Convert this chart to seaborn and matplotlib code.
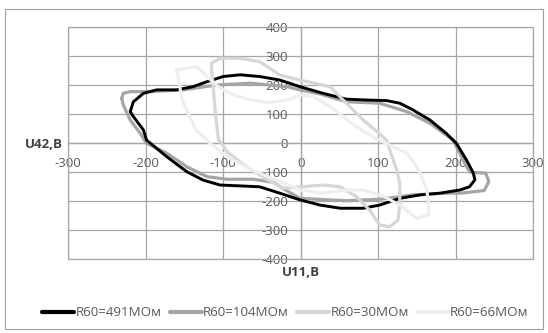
import matplotlib
matplotlib.use('Agg')
import matplotlib.pyplot as plt
import seaborn as sns
import pandas as pd
from matplotlib.patches import Rectangle

# R60=491 МОм
x_491 = [-220, -216, -203, -186, -160, -139, -121, -100, -78, -53, -27, -1, 29, 59, 85, 111, 128, 145, 167, 188,
         201, 214, 223, 225, 218, 206, 180, 154, 128, 102, 81, 51, 25, -1, -27, -53, -78, -104, -126, -147, -173,
         -199, -203, -216, -220]
y_491 = [109, 143, 172, 184, 184, 195, 212, 230, 236, 230, 218, 195, 172, 152, 149, 147, 138, 115, 80, 34,
         0, -57, -103, -126, -150, -161, -172, -178, -190, -213, -224, -224, -213, -195, -172, -150, -147, -144, -127, -98, -46,
         11, 46, 92, 109]

# R60=104 МОм
x_104 = [-231, -229, -220, -194, -151, -108, -65, -18, -1, 25, 59, 102, 137, 167, 197, 201, 214, 219, 239, 243,
         237, 207, 188, 145, 102, 59, -1, -20, -35, -61, -95, -121, -147, -173, -199, -207, -220, -229, -231]
y_104 = [155, 172, 178, 178, 184, 201, 207, 195, 184, 170, 143, 138, 109, 69, 11, -11, -80, -100, -103, -132,
         -163, -172, -172, -178, -193, -198, -190, -160, -135, -124, -124, -115, -81, -34, 0, 34, 80, 132, 155]

# R60=30 МОм
x_30 = [-104, -78, -53, -35, -27, -1, 38, 59, 81, 111, 115, 124, 128, 128, 126, 115, 102, 89, 72, 51, 29, -22,
        -40, -70, -95, -102, -106, -110, -113, -115, -115, -104]
y_30 = [293, 293, 281, 250, 235, 218, 195, 138, 80, 11, -23, -92, -138, -207, -264, -288, -282, -230, -184, -150, -144, -155,
        -130, -81, -30, 0, 11, 100, 200, 253, 276, 293]

# R60=66 МОм
x_66 = [-160, -134, -121, -104, -87, -65, -40, -15, -1, 16, 38, 72, 98, 137, 150, 158, 163, 165, 165, 150, 131, 108,
        81, 59, 27, 0, -27, -63, -95, -117, -135, -147, -153, -160]
y_66 = [253, 264, 230, 190, 167, 149, 140, 150, 167, 161, 126, 57, 15, -34, -81, -127, -161, -207, -247, -259, -218, -184,
        -161, -161, -172, -161, -132, -92, -46, 0, 46, 115, 149, 253]

series = [
    ('R60=491МОм', x_491, y_491, '#000000', 2.1),
    ('R60=104МОм', x_104, y_104, '#a5a5a5', 2.3),
    ('R60=30МОм', x_30, y_30, '#d6d6d6', 2.3),
    ('R60=66МОм', x_66, y_66, '#eeeeee', 2.3),
]
zorders = [3.1, 3.0, 3.2, 3.3]

sns.set_theme(style='white')
plt.rcParams['font.family'] = ['Open Sans', 'DejaVu Sans']
plt.rcParams['axes.unicode_minus'] = False

fig = plt.figure(figsize=(5.48, 3.33), dpi=100)
ax = fig.add_axes([0.1246, 0.2213, 0.848, 0.697])

for (name, xs, ys, col, lw), z in zip(series, zorders):
    df = pd.DataFrame({'x': xs, 'y': ys})
    sns.lineplot(data=df, x='x', y='y', sort=False, estimator=None, color=col, lw=lw,
                 label=name, ax=ax, zorder=z)

grid_col = '#a6a6a6'
ax.set_xlim(-300, 300)
ax.set_ylim(-400, 400)
ax.set_xticks(range(-300, 301, 100))
ax.set_yticks(range(-400, 401, 100))
ax.grid(True, color=grid_col, lw=0.9)
for s in ['top', 'right']:
    ax.spines[s].set_visible(False)
for s in ['left', 'bottom']:
    ax.spines[s].set_position('zero')
    ax.spines[s].set_color(grid_col)
    ax.spines[s].set_linewidth(0.9)
ax.add_patch(Rectangle((0, 0), 1, 1, transform=ax.transAxes, fill=False,
                       ec=grid_col, lw=0.9, clip_on=False, zorder=1))
ax.tick_params(axis='both', length=0, labelsize=9.5, labelcolor='#595959')
ax.tick_params(axis='x', pad=10)
ax.tick_params(axis='y', pad=9)

ax.set_xlabel('U11,В', fontsize=9.5, fontweight='bold', color='#404040')
ax.xaxis.set_label_coords(0.5, -0.055)
ax.xaxis.label.set_va('center')
ax.set_ylabel('U42,В', fontsize=9.5, fontweight='bold', color='#404040', rotation=0)
ax.yaxis.set_label_coords(-0.011, 0.495)
ax.yaxis.label.set_ha('right')
ax.yaxis.label.set_va('center')

handles, labels = ax.get_legend_handles_labels()
ax.get_legend().remove()
leg = fig.legend(handles, labels, loc='center', bbox_to_anchor=(0.521, 0.061), ncol=4,
                 frameon=False, fontsize=9.6, handlelength=2.4, handletextpad=0.1,
                 columnspacing=0.6, labelcolor='#595959')
for line in leg.get_lines():
    line.set_linewidth(3)

fig.patches.append(Rectangle((5 / 548, 4 / 333), 538 / 548, 320 / 333, transform=fig.transFigure,
                             fill=False, ec='#a0a0a0', lw=0.8))

fig.savefig('out.png', dpi=100)
